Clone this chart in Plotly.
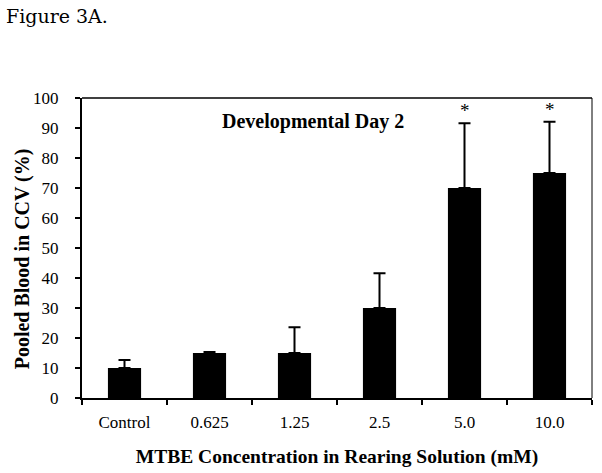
import plotly.graph_objects as go

categories = ["Control", "0.625", "1.25", "2.5", "5.0", "10.0"]
values = [10, 15, 15, 30, 70, 75]
err_plus = [2.7, 0.3, 8.6, 11.6, 21.6, 17.1]
significance = ["", "", "", "", "*", "*"]
y_ticks = [0, 10, 20, 30, 40, 50, 60, 70, 80, 90, 100]

serif = "Liberation Serif, Times New Roman, serif"

fig = go.Figure()
fig.add_trace(go.Bar(
    x=categories, y=values,
    marker=dict(color="black", line=dict(width=0)),
    width=0.39,
    error_y=dict(type="data", array=err_plus, arrayminus=[0]*len(values),
                 symmetric=False, color="black", thickness=2, width=6),
    showlegend=False,
))

for i, (v, e, s) in enumerate(zip(values, err_plus, significance)):
    if s:
        fig.add_annotation(x=i, y=v + e, text=s, showarrow=False, yanchor="bottom",
                           yshift=0, font=dict(family=serif, size=19, color="black"))

fig.add_annotation(xref="paper", yref="paper", x=0.452, y=0.92, text="<b>Developmental Day 2</b>",
                   showarrow=False, yanchor="middle",
                   font=dict(family=serif, size=20, color="black"))

fig.add_annotation(xref="paper", yref="paper", x=-0.152, y=1.275, xanchor="left", yanchor="middle",
                   text="Figure 3A.", showarrow=False,
                   font=dict(family="DejaVu Serif, serif", size=19, color="black"))

fig.add_annotation(xref="paper", yref="paper", x=-0.116, y=0.465, xanchor="center", yanchor="middle",
                   text="<b>Pooled Blood in CCV (%)</b>", textangle=-90, showarrow=False,
                   font=dict(family=serif, size=20, color="black"))

fig.update_layout(
    width=602, height=473,
    margin=dict(l=82, r=10, t=98, b=75),
    paper_bgcolor="white", plot_bgcolor="white",
    xaxis=dict(
        type="category", automargin=False,
        showline=True, linecolor="black", linewidth=2, mirror=False,
        ticks="outside", ticklen=5, tickwidth=2, tickcolor="black",
        tickson="boundaries", tickangle=0, ticklabelstandoff=8,
        tickfont=dict(family=serif, size=17, color="black"),
        title=dict(text="<b>MTBE Concentration in Rearing Solution (mM)</b>",
                   font=dict(family=serif, size=19.5, color="black"), standoff=18),
    ),
    yaxis=dict(
        range=[0, 100], tickvals=y_ticks, automargin=False,
        showline=True, linecolor="black", linewidth=2,
        ticks="outside", ticklen=5, tickwidth=2, tickcolor="black",
        showgrid=False, zeroline=False, ticklabelstandoff=13,
        tickfont=dict(family=serif, size=17, color="black"),
    ),
    shapes=[
        dict(type="line", xref="paper", yref="paper", x0=0, x1=1, y0=1, y1=1,
             line=dict(color="black", width=1.5)),
        dict(type="line", xref="paper", yref="paper", x0=1, x1=1, y0=0, y1=1,
             line=dict(color="black", width=1)),
    ],
)

fig.write_html("out.html", config={"displayModeBar": False},
               post_script="document.body.style.margin='0';")
